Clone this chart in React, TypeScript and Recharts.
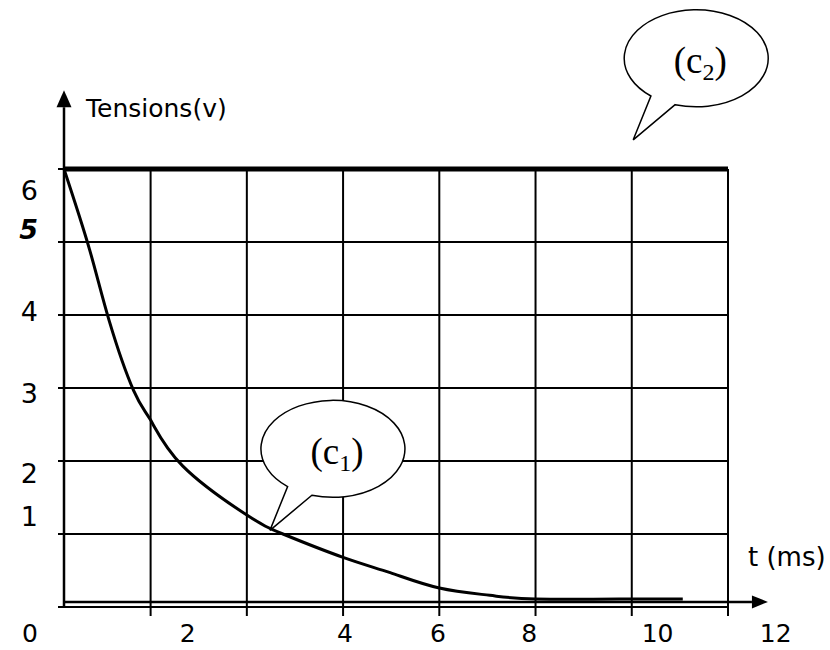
import { LineChart, Line, XAxis, YAxis, CartesianGrid, ReferenceLine, ReferenceDot } from 'recharts';

// (c1): discharge curve, t in ms, voltage in V
const c1Times = [0.2, 0.73, 1.14, 1.65, 2, 2.67, 4, 4.75, 6, 6.98, 8, 9.05, 10, 12, 13.06];
const c1Volts = [6, 4.9, 3.92, 2.96, 2.56, 1.93, 1.26, 1.0, 0.68, 0.47, 0.26, 0.16, 0.11, 0.11, 0.11];

// (c2): flat at 6 V
const c2Times = [0.2, 14];
const c2Volts = [6, 6];

const xTicks = [2, 4, 6, 8, 10, 12, 14];
const xTickLabels = ['2', '4', '6', '8', '10', '12', ''];
const yTicks = [0, 1, 2, 3, 4, 5, 6];
const yTickLabels = ['0', '1', '2', '3', '4', '5', '6'];

// the printed numbers don't sit on their grid lines in the original
const xLabelShift = [37, 98, 95, 90, 122, 144, 0];
const yLabelShift = [26, -18, 12, 5, -4, -13, 21];

const c1Data = c1Times.map((t, i) => ({ t, v: c1Volts[i] }));
const c2Data = c2Times.map((t, i) => ({ t, v: c2Volts[i] }));

const FONT = 'DejaVu Sans';

function arrow(props: any, len: number, half: number, width: number) {
  const { x1, y1, x2, y2 } = props;
  const dx = x2 - x1;
  const dy = y2 - y1;
  const l = Math.sqrt(dx * dx + dy * dy) || 1;
  const ux = dx / l;
  const uy = dy / l;
  const bx = x2 - ux * len;
  const by = y2 - uy * len;
  const pts = `${x2},${y2} ${bx - uy * half},${by + ux * half} ${bx + uy * half},${by - ux * half}`;
  return (
    <g>
      <line x1={x1} y1={y1} x2={bx} y2={by} stroke="#000" strokeWidth={width} />
      <polygon points={pts} fill="#000" />
    </g>
  );
}

function Callout({ cx, cy, sub }: any) {
  const ex = cx + 63;
  const ey = cy - 81.5;
  const rx = 72;
  const ry = 48.5;
  const a1 = (129 * Math.PI) / 180;
  const a2 = (107 * Math.PI) / 180;
  const p1x = ex + rx * Math.cos(a1);
  const p1y = ey + ry * Math.sin(a1);
  const p2x = ex + rx * Math.cos(a2);
  const p2y = ey + ry * Math.sin(a2);
  const d = `M${p1x},${p1y} A${rx},${ry} 0 1 1 ${p2x},${p2y} L${cx},${cy} Z`;
  return (
    <g>
      <path d={d} fill="#fff" stroke="#000" strokeWidth={1.5} />
      <text x={ex + 4} y={ey + 15} textAnchor="middle" fontFamily="Liberation Serif" fontSize={37} fill="#000">
        (c<tspan fontSize={24} dy={7}>{sub}</tspan>
        <tspan dy={-7}>)</tspan>
      </text>
    </g>
  );
}

function XTick({ x, y, payload }: any) {
  const i = xTicks.indexOf(payload.value);
  if (i < 0) return null;
  return (
    <text x={x + xLabelShift[i]} y={y + 15} textAnchor="middle" dominantBaseline="central"
      fontFamily={FONT} fontSize={25} fill="#000">
      {xTickLabels[i]}
    </text>
  );
}

function YTick({ x, y, payload }: any) {
  const i = yTicks.indexOf(payload.value);
  if (i < 0) return null;
  const five = payload.value === 5;
  return (
    <text x={x - 18} y={y + yLabelShift[i]} textAnchor="end" dominantBaseline="central"
      fontFamily={FONT} fontSize={i === 0 ? 25 : 27} fill="#000"
      fontWeight={five ? 'bold' : 'normal'} fontStyle={five ? 'italic' : 'normal'}>
      {yTickLabels[i]}
    </text>
  );
}

export default function App() {
  return (
    <div style={{ position: 'absolute', left: 0, top: 0, width: 830, height: 650, background: '#fff' }}>
      <LineChart width={830} height={650} margin={{ top: 169, right: 102, bottom: 13, left: 4 }}>
        <CartesianGrid stroke="#000" strokeWidth={2} />
        <XAxis
          type="number"
          dataKey="t"
          domain={[0.2, 14]}
          ticks={xTicks}
          interval={0}
          height={30}
          tickSize={9}
          axisLine={{ stroke: '#000', strokeWidth: 2 }}
          tickLine={{ stroke: '#000', strokeWidth: 2 }}
          tick={(p: any) => <XTick {...p} />}
          label={{
            content: (p: any) => (
              <text x={p.viewBox.x + p.viewBox.width + 20} y={p.viewBox.y - 41}
                fontFamily={FONT} fontSize={26} fill="#000">
                t (ms)
              </text>
            ),
          }}
        />
        <YAxis
          type="number"
          domain={[0, 6]}
          ticks={yTicks}
          interval={0}
          width={60}
          tickSize={6}
          axisLine={false}
          tickLine={{ stroke: '#000', strokeWidth: 2 }}
          tick={(p: any) => <YTick {...p} />}
          label={{
            content: (p: any) => (
              <text x={p.viewBox.x + p.viewBox.width + 22} y={p.viewBox.y - 52}
                fontFamily={FONT} fontSize={25} fill="#000">
                Tensions(v)
              </text>
            ),
          }}
        />
        <ReferenceLine
          segment={[{ x: 0.2, y: 0 }, { x: 0.2, y: 7.08 }]}
          ifOverflow="visible"
          shape={(p: any) => arrow(p, 17, 7.5, 2.5)}
        />
        <ReferenceLine
          segment={[{ x: 0.2, y: 0.07 }, { x: 14.83, y: 0.07 }]}
          ifOverflow="visible"
          shape={(p: any) => arrow(p, 16, 6.5, 2.5)}
        />
        <Line data={c2Data} dataKey="v" type="linear" stroke="#000" strokeWidth={5}
          dot={false} activeDot={false} isAnimationActive={false} />
        <Line data={c1Data} dataKey="v" type="natural" stroke="#000" strokeWidth={3}
          dot={false} activeDot={false} isAnimationActive={false} />
        <ReferenceDot x={4.48} y={1.05} ifOverflow="visible"
          shape={(p: any) => <Callout {...p} sub="1" />} />
        <ReferenceDot x={12.03} y={6.4} ifOverflow="visible"
          shape={(p: any) => <Callout {...p} sub="2" />} />
      </LineChart>
    </div>
  );
}
